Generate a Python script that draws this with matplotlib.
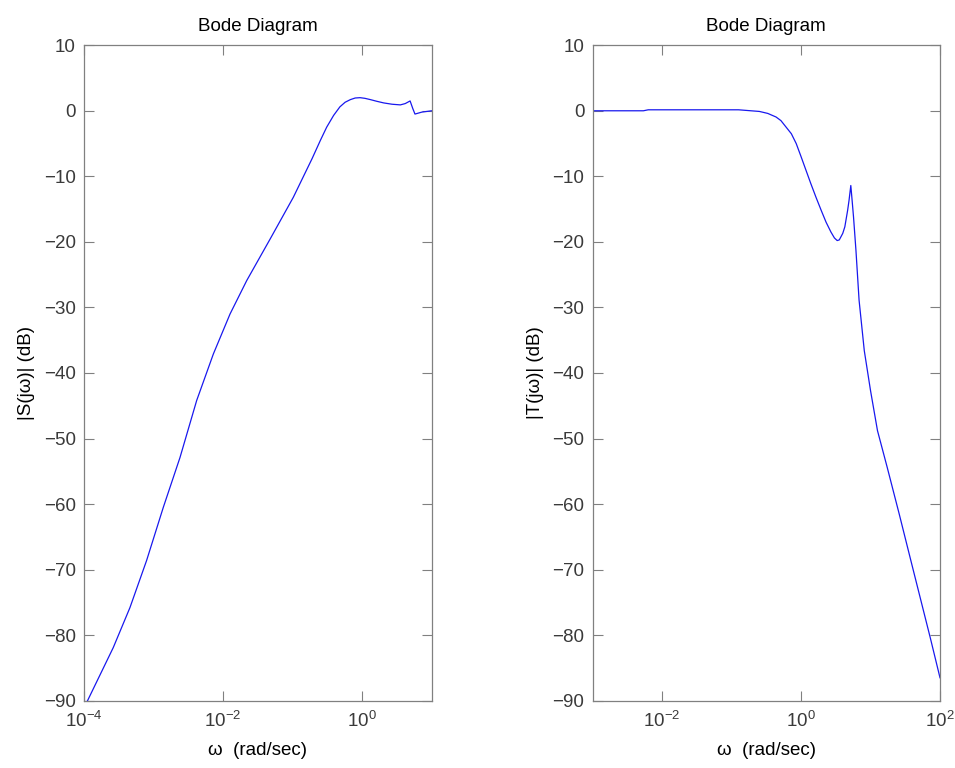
import matplotlib
matplotlib.use("Agg")
import matplotlib.pyplot as plt
import numpy as np

plt.rcParams['font.family'] = ['Liberation Sans', 'DejaVu Sans']
plt.rcParams['mathtext.fontset'] = 'custom'
plt.rcParams['mathtext.rm'] = 'Liberation Sans'
plt.rcParams['mathtext.it'] = 'Liberation Sans'

# |S(jw)|: log10(w) and magnitude in dB
s_logw = [-4.00, -3.95, -3.58, -3.34, -3.10, -2.86, -2.62, -2.38, -2.14, -1.90,
          -1.66, -1.32, -0.99, -0.72, -0.60, -0.51, -0.41, -0.32, -0.245, -0.17,
          -0.10, -0.03, 0.04, 0.12, 0.21, 0.31, 0.43, 0.55, 0.62, 0.69,
          0.73, 0.76, 0.86, 1.00]
s_db = [-91.0, -90.0, -81.9, -75.8, -68.6, -60.5, -52.9, -44.2, -37.1, -31.0,
        -25.9, -19.5, -13.2, -7.3, -4.5, -2.5, -0.7, 0.6, 1.3, 1.7,
        1.95, 2.0, 1.9, 1.7, 1.45, 1.2, 1.0, 0.9, 1.1, 1.5,
        0.3, -0.5, -0.2, 0.0]

# |T(jw)|
t_logw = [-3.00, -2.27, -2.20, -0.90, -0.60, -0.48, -0.36, -0.29, -0.14, -0.07,
          0.00, 0.14, 0.215, 0.29, 0.36, 0.43, 0.48, 0.52, 0.55, 0.60,
          0.63, 0.67, 0.69, 0.716, 0.735, 0.755, 0.79, 0.835, 0.91, 1.00,
          1.10, 1.24, 1.41, 1.58, 1.72, 1.86, 2.00]
t_db = [0.0, 0.0, 0.15, 0.15, -0.1, -0.4, -0.95, -1.5, -3.5, -5.0,
        -7.0, -11.1, -13.2, -15.2, -17.0, -18.5, -19.4, -19.8, -19.7, -18.7,
        -17.7, -15.2, -13.7, -11.4, -13.7, -16.2, -21.3, -28.9, -36.6, -42.7,
        -48.8, -54.4, -61.4, -68.6, -74.5, -80.4, -86.5]

y_ticks = list(range(-90, 11, 10))
s_xticks = [1e-4, 1e-2, 1e0]
t_xticks = [1e-2, 1e0, 1e2]

axis_gray = '#808080'
label_gray = '#3a3a3a'
line_blue = '#1818ee'

fig = plt.figure(figsize=(9.55, 7.68), dpi=100)
ax1 = fig.add_axes([0.088, 0.0876, 0.364, 0.8535])
ax2 = fig.add_axes([0.6206, 0.0876, 0.3637, 0.8535])


def style(ax, xlim, xticks, ylabel):
    ax.set_xscale('log')
    ax.set_xlim(*xlim)
    ax.set_ylim(-90, 10)
    ax.set_xticks(xticks)
    ax.xaxis.set_minor_locator(matplotlib.ticker.NullLocator())
    ax.set_yticks(y_ticks)
    ax.tick_params(which='both', direction='in', top=True, right=True,
                   length=7, width=0.8, color=axis_gray, labelsize=13.5,
                   labelcolor=label_gray, pad=6)
    ax.tick_params(axis='x', pad=7)
    for sp in ax.spines.values():
        sp.set_color(axis_gray)
        sp.set_linewidth(0.9)
    ax.set_title('Bode Diagram', fontsize=13.5, pad=10)
    ax.set_xlabel('ω  (rad/sec)', fontsize=13.5, labelpad=8)
    ax.set_ylabel(ylabel, fontsize=13.5, labelpad=6)


ax1.plot(10 ** np.array(s_logw), s_db, color=line_blue, lw=0.9)
style(ax1, (1e-4, 1e1), s_xticks, '|S(jω)| (dB)')

ax2.plot(10 ** np.array(t_logw), t_db, color=line_blue, lw=0.9)
style(ax2, (1e-3, 1e2), t_xticks, '|T(jω)| (dB)')

fig.savefig('out.png', dpi=100)
